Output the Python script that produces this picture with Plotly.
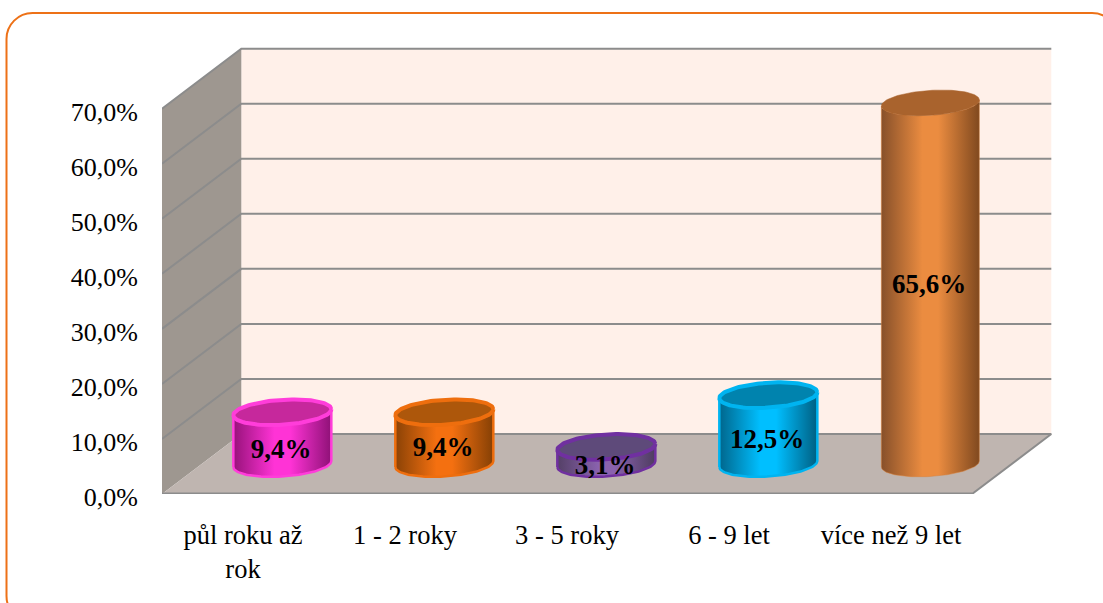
import numpy as np
import plotly.graph_objects as go

categories = ["půl roku až<br>rok", "1 - 2 roky", "3 - 5 roky", "6 - 9 let", "více než 9 let"]
values = [9.4, 9.4, 3.1, 12.5, 65.6]
value_labels = ["9,4%", "9,4%", "3,1%", "12,5%", "65,6%"]
axis_ticks = [0, 10, 20, 30, 40, 50, 60, 70]
axis_tick_labels = ["0,0%", "10,0%", "20,0%", "30,0%", "40,0%", "50,0%", "60,0%", "70,0%"]

edge_colors = ["#FF3DDA", "#EE6E0E", "#7030A0", "#00B4F0", "#D9803A"]
top_colors = ["#C6289C", "#AD570B", "#5E4A7A", "#0083AE", "#A9632D"]
gradients = [
    ("#97127A", "#FF33D6", "#8F1177"),
    ("#8A4206", "#F47010", "#854005"),
    ("#544066", "#8A62AE", "#4E3C60"),
    ("#00668C", "#00BFFF", "#005F82"),
    ("#87502A", "#EB8C40", "#80491F"),
]

W, H = 1103, 603
L, R, T, B = 162, 40, 30, 109
PX_X = 162.0          # px per category
PX_Y = 5.505          # px per percentage point
DX = 79.3 / PX_X      # depth of the floor, in axis units
DY = 60 / PX_Y
X0, X1 = -0.5, 4.5
GRID = "#8C8C8C"

fig = go.Figure()


def poly(xs, ys, fill, line=None, width=0):
    fig.add_trace(go.Scatter(x=xs, y=ys, mode="lines", fill="toself", fillcolor=fill,
                             line=dict(color=line or fill, width=width),
                             hoverinfo="skip", showlegend=False, cliponaxis=False))


top = axis_ticks[-1]
poly([X0 + DX, X1 + DX, X1 + DX, X0 + DX], [DY, DY, top + DY, top + DY], "#FFF0E9")
poly([X0, X0 + DX, X0 + DX, X0], [0, DY, top + DY, top], "#9E9790")
poly([X0, X1, X1 + DX, X0 + DX], [0, 0, DY, DY], "#BFB5B0")

for v in axis_ticks:
    if v == 0:
        xs, ys = [X0, X1, X1 + DX, X0 + DX], [0, 0, DY, DY]
    else:
        xs, ys = [X0, X0 + DX, X1 + DX], [v, v + DY, v + DY]
    fig.add_trace(go.Scatter(x=xs, y=ys, mode="lines", line=dict(color=GRID, width=2),
                             hoverinfo="skip", showlegend=False, cliponaxis=False))
# front edge of the floor is a little heavier
fig.add_trace(go.Scatter(x=[X0, X1], y=[0, 0], mode="lines", line=dict(color=GRID, width=3),
                         hoverinfo="skip", showlegend=False, cliponaxis=False))

A = 49.0 / PX_X       # ellipse half width
Bb = 12.5 / PX_Y      # ellipse half height
K = 3.0 / PX_Y        # tilt of the ellipse


def ell(cx, cy, t):
    return cx + A * np.cos(t), cy + K * np.cos(t) + Bb * np.sin(t)


for i, v in enumerate(values):
    cx = i + DX / 2 - 0.002
    base = DY / 2
    topv = base + v
    t_low = np.linspace(np.pi, 2 * np.pi, 60)
    bx, by = ell(cx, base, t_low)
    tx, ty = ell(cx, topv, t_low[::-1])
    xs = np.r_[bx, tx, bx[0]]
    ys = np.r_[by, ty, by[0]]
    c0, c1, c2 = gradients[i]
    fig.add_trace(go.Scatter(
        x=xs, y=ys, mode="lines", fill="toself",
        fillgradient=dict(type="horizontal",
                          colorscale=[[0, c0], [0.42, c1], [0.58, c1], [1, c2]]),
        line=dict(color=edge_colors[i], width=2.5 if i < 4 else 0.5),
        hoverinfo="skip", showlegend=False, cliponaxis=False))
    t_all = np.linspace(0, 2 * np.pi, 120)
    ex, ey = ell(cx, topv, t_all)
    poly(ex, ey, top_colors[i], edge_colors[i] if i < 4 else top_colors[i], 4 if i < 4 else 0.5)

label_y = [2.36, 2.72, -0.54, 4.18, 32.2]
fig.add_trace(go.Scatter(
    x=[i + DX / 2 - 0.01 for i in range(5)],
    y=[DY / 2 + ly for ly in label_y],
    mode="text", text=[f"<b>{s}</b>" for s in value_labels],
    textposition="middle center",
    textfont=dict(family="Liberation Serif", size=27, color="#000000"),
    hoverinfo="skip", showlegend=False, cliponaxis=False))


def px(x):
    return (x - L) / (W - L - R)


def py(y):
    return 1 - (y - T) / (H - T - B)


x_l, x_r, y_t, y_b, r = 6.5, 1118, 13, 622, 26
k = 0.55 * r
frame = (
    f"M {px(x_l)} {py(y_t + r)} "
    f"C {px(x_l)} {py(y_t + r - k)} {px(x_l + r - k)} {py(y_t)} {px(x_l + r)} {py(y_t)} "
    f"L {px(x_r - r)} {py(y_t)} "
    f"C {px(x_r - r + k)} {py(y_t)} {px(x_r)} {py(y_t + r - k)} {px(x_r)} {py(y_t + r)} "
    f"L {px(x_r)} {py(y_b - r)} "
    f"C {px(x_r)} {py(y_b - r + k)} {px(x_r - r + k)} {py(y_b)} {px(x_r - r)} {py(y_b)} "
    f"L {px(x_l + r)} {py(y_b)} "
    f"C {px(x_l + r - k)} {py(y_b)} {px(x_l)} {py(y_b - r + k)} {px(x_l)} {py(y_b - r)} Z"
)

fig.update_layout(
    width=W, height=H, autosize=False,
    margin=dict(l=L, r=R, t=T, b=B, pad=0),
    paper_bgcolor="#FFFFFF", plot_bgcolor="rgba(0,0,0,0)",
    font=dict(family="Liberation Serif", size=26, color="#000000"),
    showlegend=False,
    shapes=[dict(type="path", xref="paper", yref="paper", path=frame,
                 line=dict(color="#ED7117", width=2), fillcolor="rgba(0,0,0,0)", layer="below")],
    xaxis=dict(range=[X0, X0 + (W - L - R) / PX_X], tickvals=list(range(5)), ticktext=categories,
               showgrid=False, zeroline=False, showline=False,
               ticks="outside", ticklen=17, tickcolor="rgba(0,0,0,0)", tickangle=0, fixedrange=True,
               tickfont=dict(family="Liberation Serif", size=26.5, color="#000000")),
    yaxis=dict(range=[0, (H - T - B) / PX_Y], tickvals=axis_ticks, ticktext=axis_tick_labels,
               showgrid=False, zeroline=False, showline=False,
               ticks="outside", ticklen=18, tickcolor="rgba(0,0,0,0)", fixedrange=True,
               ticklabelshift=3),
)

fig.write_html("out.html", config={"displayModeBar": False},
               post_script="document.body.style.margin='0';document.body.style.overflow='hidden';")
